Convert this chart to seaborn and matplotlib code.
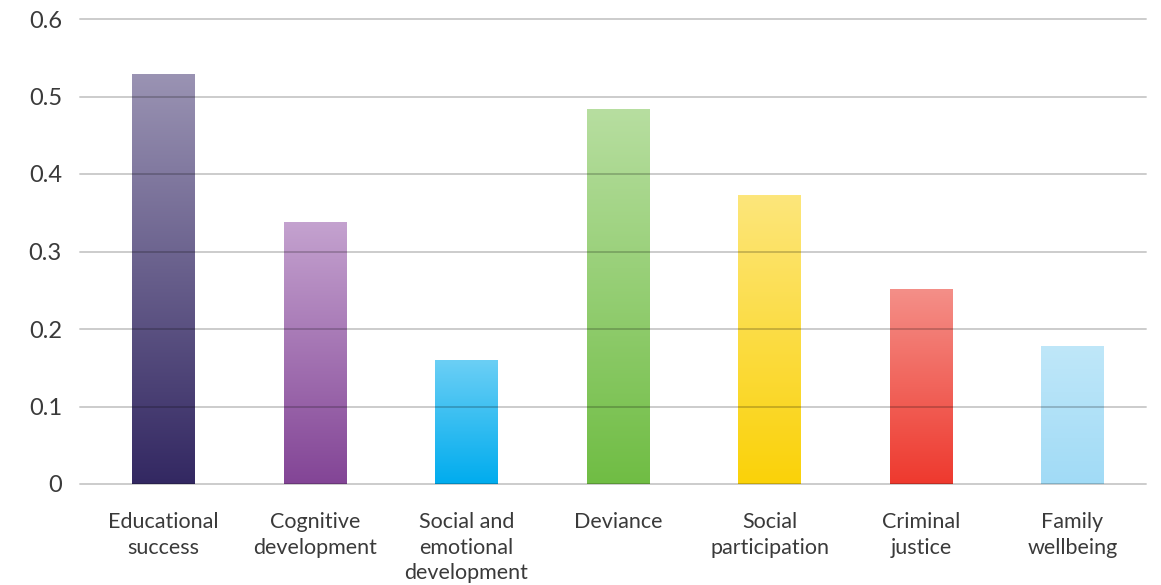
import numpy as np
import pandas as pd
import matplotlib
matplotlib.use("Agg")
import matplotlib.pyplot as plt
from matplotlib.colors import to_rgb
import seaborn as sns

# Outcome domains and their effect sizes
categories = [
    "Educational\nsuccess",
    "Cognitive\ndevelopment",
    "Social and\nemotional\ndevelopment",
    "Deviance",
    "Social\nparticipation",
    "Criminal\njustice",
    "Family\nwellbeing",
]
values = [0.528, 0.338, 0.160, 0.483, 0.372, 0.251, 0.178]
y_ticks = [0, 0.1, 0.2, 0.3, 0.4, 0.5, 0.6]
y_tick_labels = ["0", "0.1", "0.2", "0.3", "0.4", "0.5", "0.6"]

# Gradient colours per bar: (bottom, top)
bottom_colors = ["#332862", "#834596", "#00acee", "#70bd44", "#fad209", "#ee392e", "#a1dbf6"]
top_colors = ["#9a93b3", "#c4a2cf", "#6bcff5", "#b7dea0", "#fde67b", "#f48f88", "#bfe7f9"]

sns.set_theme(style="white")
plt.rcParams["font.family"] = ["Lato", "DejaVu Sans"]

df = pd.DataFrame({"category": categories, "value": values})

fig = plt.figure(figsize=(11.61, 5.85), dpi=100)
ax = fig.add_axes([80 / 1161, 101 / 585, 1066 / 1161, 465 / 585])

sns.barplot(data=df, x="category", y="value", ax=ax, width=0.41,
            color="white", saturation=1, errorbar=None)

# Replace each flat bar with a vertical gradient
for patch, c_bot, c_top in zip(ax.patches, bottom_colors, top_colors):
    x0 = patch.get_x()
    w = patch.get_width()
    h = patch.get_height()
    b = np.array(to_rgb(c_bot))
    t = np.array(to_rgb(c_top))
    frac = np.linspace(0, 1, 256)[:, None]
    grad = (b[None, :] * (1 - frac) + t[None, :] * frac)[:, None, :]
    ax.imshow(grad, extent=[x0, x0 + w, 0, h], origin="lower",
              aspect="auto", interpolation="bilinear", zorder=2)
    patch.set_visible(False)

ax.set_xlim(-0.551, 6.485)
ax.set_ylim(0, 0.6)
ax.set_yticks(y_ticks)
ax.set_yticklabels(y_tick_labels)

# Gridlines over the bars, translucent so they darken the fills
for yv in y_ticks:
    ax.axhline(yv, color="black", alpha=0.2, lw=1.4, zorder=3, clip_on=False)

for s in ax.spines.values():
    s.set_visible(False)

ax.set_xlabel("")
ax.set_ylabel("")
ax.tick_params(axis="y", length=0, pad=13, labelsize=17, labelcolor="#3a3a3a")
ax.tick_params(axis="x", length=0, pad=20, labelsize=15.5, labelcolor="#3a3a3a")
for lbl in ax.get_xticklabels():
    lbl.set_linespacing(1.36)
    lbl.set_verticalalignment("top")

fig.savefig("out.png", dpi=100, facecolor="white")
